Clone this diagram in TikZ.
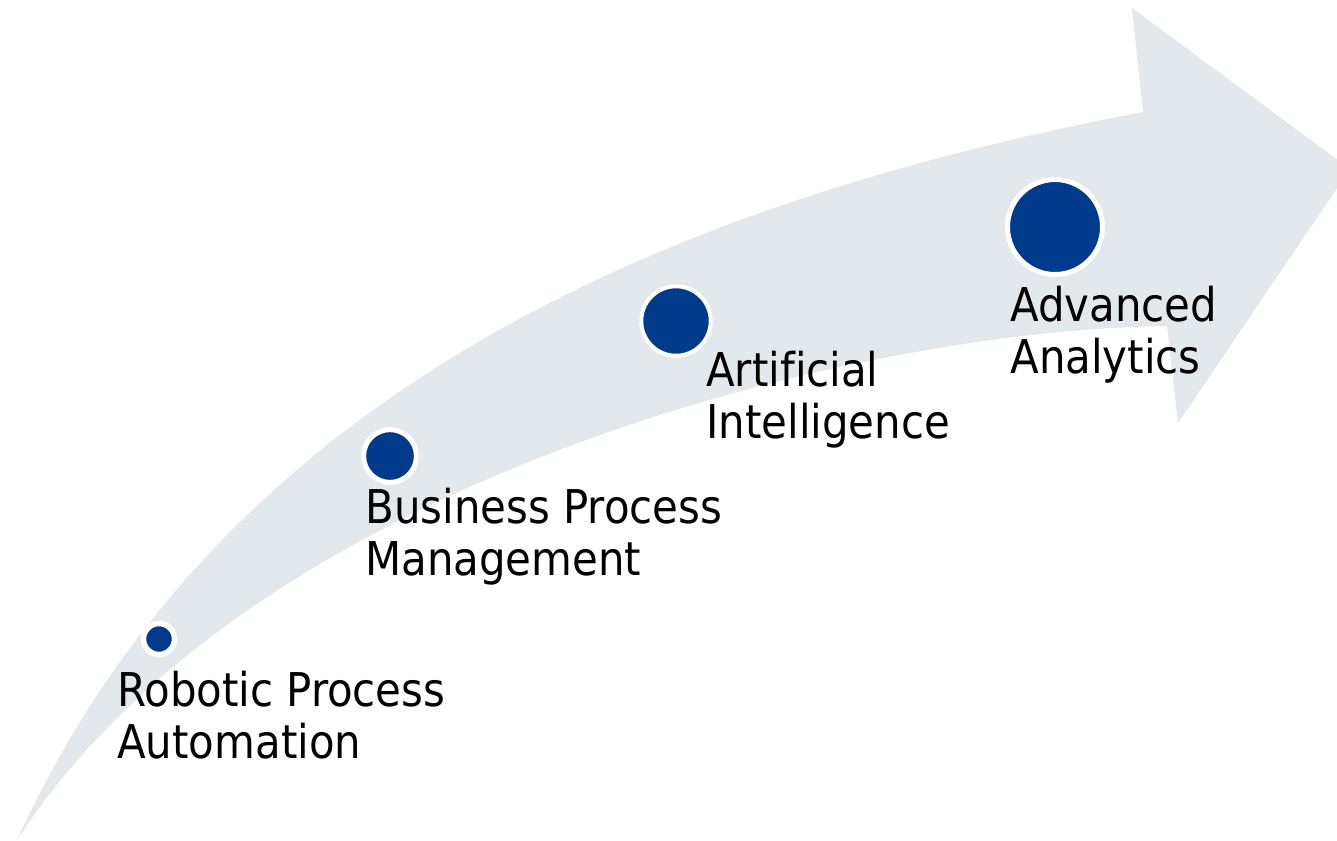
\documentclass[tikz,border=0pt]{standalone}
\usepackage{fontspec}
\setmainfont[Ligatures=NoCommon]{DejaVu Sans Condensed}
\definecolor{arrowgray}{HTML}{E3E8EC}
\definecolor{dotblue}{HTML}{003A8C}
\tikzset{
	dot/.style={circle, fill=dotblue, draw=white, inner sep=0pt},
	stage/.style={anchor=base west, inner sep=0pt, align=left,
		font=\fontsize{26.5}{29.5}\selectfont}
}
\begin{document}
\begin{tikzpicture}[x=0.02cm, y=-0.02cm]
	
	\useasboundingbox (0,0) rectangle (1337,840);
	\clip (0,0) rectangle (1337,840);
	
	% Curved arrow
	\fill[arrowgray] (17,840) .. controls (225,385) and (680,200) .. (1143,112)
	-- (1132,8) -- (1350,169) -- (1178,423) -- (1167,326)
	.. controls (850,330) and (250,480) .. (17,840) -- cycle;
	
	% Dots
	\node[dot, minimum size=0.62cm, line width=0.11cm] (rpa) at (159,639) {};
	\node[dot, minimum size=1.056cm, line width=0.1cm] (bpm) at (390,456) {};
	\node[dot, minimum size=1.39cm, line width=0.08cm] (ai) at (676,321) {};
	\node[dot, minimum size=1.9cm, line width=0.1cm] (aa) at (1055,227) {};
	
	% Labels (base = last line)
	\node[stage] (rpa-text) at (117,758) {Robotic Process\\Automation};
	\node[stage] (bpm-text) at (365,575) {Business Process\\Management};
	\node[stage] (ai-text) at (706,438) {Artificial\\Intelligence};
	\node[stage] (aa-text) at (1010,373) {Advanced\\Analytics};
	
\end{tikzpicture}
\end{document}
